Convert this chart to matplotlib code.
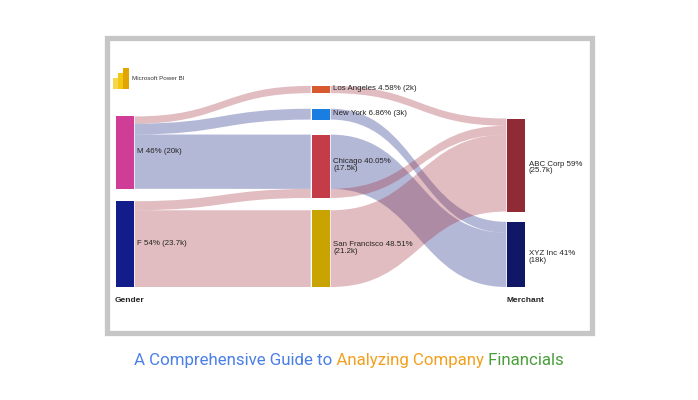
import matplotlib
matplotlib.use("Agg")
from matplotlib import pyplot as plt
from matplotlib.path import Path
from matplotlib.patches import PathPatch, Rectangle
from matplotlib.transforms import Bbox, TransformedBbox

# ---- data (values in thousands) ----
gender_nodes = ["M", "F"]
city_nodes = ["Los Angeles", "New York", "Chicago", "San Francisco"]
merchant_nodes = ["ABC Corp", "XYZ Inc"]

link_src = ["M", "M", "M", "F", "F",
            "Los Angeles", "New York", "Chicago", "Chicago", "San Francisco"]
link_dst = ["Los Angeles", "New York", "Chicago", "Chicago", "San Francisco",
            "ABC Corp", "XYZ Inc", "XYZ Inc", "ABC Corp", "ABC Corp"]
link_vals = [2.0, 3.0, 15.0, 2.5, 21.2,
             2.0, 3.0, 15.0, 2.5, 21.2]
link_kind = ["abc", "xyz", "xyz", "abc", "abc",
             "abc", "xyz", "xyz", "abc", "abc"]

node_labels = {
    "M": "M 46% (20k)",
    "F": "F 54% (23.7k)",
    "Los Angeles": "Los Angeles 4.58% (2k)",
    "New York": "New York 6.86% (3k)",
    "Chicago": "Chicago 40.05%\n(17.5k)",
    "San Francisco": "San Francisco 48.51%\n(21.2k)",
    "ABC Corp": "ABC Corp 59%\n(25.7k)",
    "XYZ Inc": "XYZ Inc 41%\n(18k)",
}
column_titles = ["Gender", "Merchant"]
caption_parts = ["A Comprehensive Guide to", "Analyzing Company", "Financials"]

# ---- style ----
node_colors = {
    "M": "#d03d97", "F": "#121c8a",
    "Los Angeles": "#d9592e", "New York": "#1a7ee0",
    "Chicago": "#c43c48", "San Francisco": "#c9a300",
    "ABC Corp": "#902a35", "XYZ Inc": "#0f1766",
}
link_colors = {"abc": (158/255, 38/255, 52/255), "xyz": (8/255, 20/255, 125/255)}
link_alpha = 0.3
caption_colors = ["#4a7fe8", "#f2a01e", "#4a9e3c"]
text_color = "#252423"

columns = [gender_nodes, city_nodes, merchant_nodes]
col_x = [115.7, 311.7, 507.3]
col_gaps = [[12.4], [15.6, 15.0, 12.3], [10.3]]
node_w = 18
bottom_y = 287.0
scale = 3.62  # px per thousand

fig = plt.figure(figsize=(6.98, 4.0), dpi=100)
ax = fig.add_axes([0, 0, 1, 1])
ax.set_xlim(0, 698)
ax.set_ylim(400, 0)
ax.axis("off")

# frame
ax.add_patch(Rectangle((107, 37.5), 485, 295, fill=False,
                       edgecolor="#c6c6c6", linewidth=3.8))

# node totals
node_val = {}
for col in columns:
    for n in col:
        ins = sum(v for d, v in zip(link_dst, link_vals) if d == n)
        outs = sum(v for s, v in zip(link_src, link_vals) if s == n)
        node_val[n] = max(ins, outs)

# node positions (bottom aligned)
node_pos = {}
for ci, col in enumerate(columns):
    y = bottom_y
    for i in range(len(col) - 1, -1, -1):
        n = col[i]
        h = node_val[n] * scale
        node_pos[n] = (col_x[ci], y - h, h)
        if i > 0:
            y = y - h - col_gaps[ci][i - 1]

# links
out_off = {n: 0.0 for n in node_pos}
in_off = {n: 0.0 for n in node_pos}
link_geo = []
for s, d, v, k in zip(link_src, link_dst, link_vals, link_kind):
    t = v * scale
    sx, sy, _ = node_pos[s]
    dx, dy, _ = node_pos[d]
    y0 = sy + out_off[s]
    y1 = dy + in_off[d]
    out_off[s] += t
    in_off[d] += t
    link_geo.append((sx + node_w + 1, y0, dx - 1, y1, t, k))

for kind in ["xyz", "abc"]:
    for x0, y0, x1, y1, t, k in link_geo:
        if k != kind:
            continue
        xm = (x0 + x1) / 2
        verts = [(x0, y0), (xm, y0), (xm, y1), (x1, y1),
                 (x1, y1 + t), (xm, y1 + t), (xm, y0 + t), (x0, y0 + t), (x0, y0)]
        codes = [Path.MOVETO, Path.CURVE4, Path.CURVE4, Path.CURVE4,
                 Path.LINETO, Path.CURVE4, Path.CURVE4, Path.CURVE4, Path.CLOSEPOLY]
        ax.add_patch(PathPatch(Path(verts, codes), facecolor=link_colors[k],
                               alpha=link_alpha, edgecolor="none"))

# nodes + labels
lab_font = dict(family=["Liberation Sans", "DejaVu Sans"], fontsize=5.7, color=text_color)
for n, (x, y, h) in node_pos.items():
    ax.add_patch(Rectangle((x, y), node_w, h, facecolor=node_colors[n], edgecolor="none"))
    dy = 2.5 if n in merchant_nodes else -1.0
    ax.text(x + node_w + 3.5, y + h / 2 + dy, node_labels[n], ha="left", va="center",
            linespacing=0.95, **lab_font)

ax.text(col_x[0] - 1, 301, column_titles[0], ha="left", va="center",
        fontweight="bold", family=["Liberation Sans"], fontsize=6, color=text_color)
ax.text(col_x[2] - 0.6, 301, column_titles[1], ha="left", va="center",
        fontweight="bold", family=["Liberation Sans"], fontsize=6, color=text_color)

# Power BI logo
ax.add_patch(Rectangle((113, 78), 5.2, 11, facecolor="#f6d64a", edgecolor="none"))
ax.add_patch(Rectangle((118, 72.5), 5.2, 16.5, facecolor="#f2c811", edgecolor="none"))
ax.add_patch(Rectangle((123, 68), 5.6, 21, facecolor="#e2a400", edgecolor="none"))
ax.text(132.5, 78.3, "Microsoft Power BI", ha="left", va="center",
        family=["Liberation Sans"], fontsize=4.5, color="#333333")

# caption: the whole line drawn once per colour, each copy clipped to its words
renderer = fig.canvas.get_renderer()
cap_font = dict(family=["Roboto", "DejaVu Sans"], fontsize=12.2)
full = " ".join(caption_parts)


def text_w(s):
    t = ax.text(0, 0, s, **cap_font)
    w = t.get_window_extent(renderer).width
    t.remove()
    return w


x_start = 349 - text_w(full) / 2
bounds = [0.0]
prefix = ""
for p in caption_parts[:-1]:
    prefix = (prefix + " " + p).strip()
    bounds.append(text_w(prefix) + 2)
bounds.append(700.0)
for i, c in enumerate(caption_colors):
    box = TransformedBbox(Bbox([[x_start + bounds[i] - (2 if i == 0 else 0), 330],
                                [x_start + bounds[i + 1], 390]]), ax.transData)
    t = ax.text(x_start, 361, full, ha="left", va="center", color=c, **cap_font)
    t.set_clip_box(box)
    t.set_clip_on(True)

fig.savefig("out.png", dpi=100)
